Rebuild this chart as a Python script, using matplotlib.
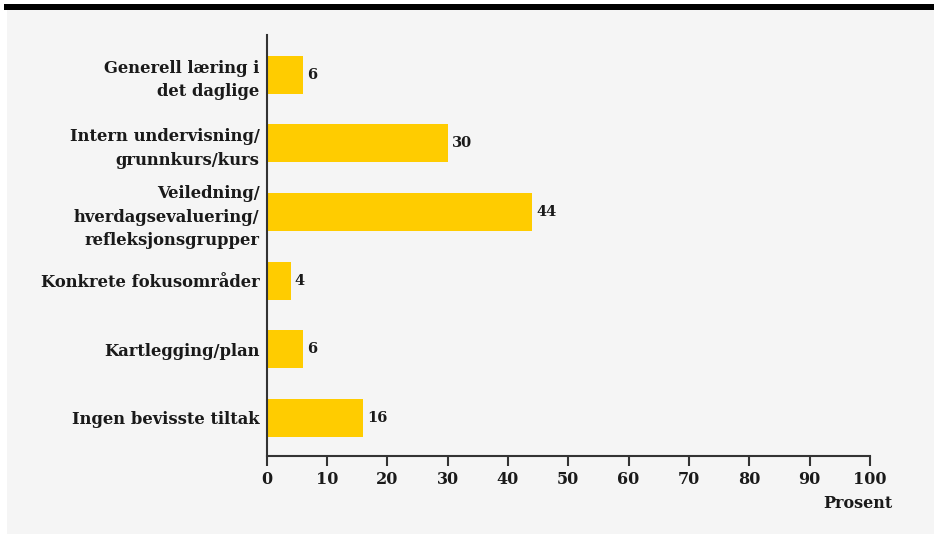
import matplotlib

matplotlib.use('Agg')
import matplotlib.pyplot as plt
import matplotlib.patches as mpatches

categories = [
    "Generell læring i\ndet daglige",
    "Intern undervisning/\ngrunnkurs/kurs",
    "Veiledning/\nhverdagsevaluering/\nrefleksjonsgrupper",
    "Konkrete fokusområder",
    "Kartlegging/plan",
    "Ingen bevisste tiltak",
]
values = [6, 30, 44, 4, 6, 16]
xticks = [0, 10, 20, 30, 40, 50, 60, 70, 80, 90, 100]

bar_color = "#ffcc00"
text_color = "#1a1a1a"
axis_color = "#333333"
font = "DejaVu Serif"

fig = plt.figure(figsize=(9.34, 5.34), dpi=100)
fig.patch.set_facecolor("white")

# grey panel and black top rule (kept behind the axes)
fig.patches.append(mpatches.Rectangle((7 / 934, 0), 1, 1 - 10 / 534, transform=fig.transFigure,
                                      facecolor="#f5f5f5", edgecolor="none", zorder=-10))
fig.patches.append(mpatches.Rectangle((4 / 934, 1 - 9.5 / 534), 1, 5.5 / 534, transform=fig.transFigure,
                                      facecolor="black", edgecolor="none", zorder=-9))

ax = fig.add_axes([266.5 / 934, 1 - 455.5 / 534, (870 - 266.5) / 934, (455.5 - 35) / 534])
ax.set_facecolor("none")

pos = list(range(len(categories)))
ax.barh(pos, values, height=0.555, color=bar_color, zorder=2)
ax.set_ylim(5.55, -0.58)
ax.set_xlim(0, 100)

for p, v in zip(pos, values):
    ax.text(v + 0.7, p, str(v), va="center", ha="left", fontsize=10.5, fontweight="bold",
            family=font, color=text_color)

ax.set_yticks(pos)
ax.set_yticklabels(categories, fontsize=11.8, fontweight="bold", family=font, color=text_color,
                   linespacing=1.5)
ax.tick_params(axis="y", length=0, pad=5)

ax.set_xticks(xticks)
ax.set_xticklabels([str(t) for t in xticks], fontsize=11.5, fontweight="bold", family=font,
                   color=text_color)
ax.tick_params(axis="x", length=7, width=1.5, color=axis_color, pad=4)

for s in ["top", "right"]:
    ax.spines[s].set_visible(False)
for s in ["left", "bottom"]:
    ax.spines[s].set_linewidth(1.5)
    ax.spines[s].set_color(axis_color)

fig.text(893 / 934, 1 - 503 / 534, "Prosent", ha="right", va="center", fontsize=11.5,
         fontweight="bold", family=font, color=text_color)

fig.savefig("out.png", dpi=100, facecolor=fig.get_facecolor())
